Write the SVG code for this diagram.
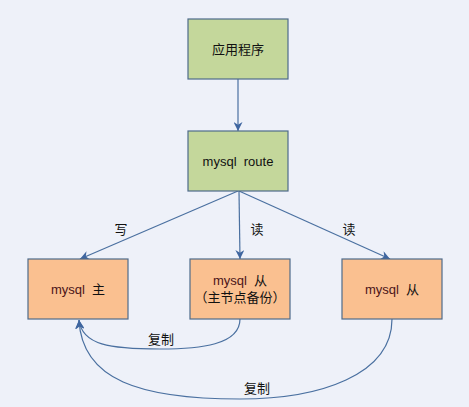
<svg xmlns="http://www.w3.org/2000/svg" width="469" height="407" viewBox="0 0 469 407">
<style>
.g{fill:#c4d79b;stroke:#4f6b8a;stroke-width:1.2}
.o{fill:#fac090;stroke:#4f6b8a;stroke-width:1.2}
.t{font-family:"Liberation Sans","Noto Sans CJK SC",sans-serif;font-size:13px;fill:#111;text-anchor:middle}
.m{fill:#4a1418}
.c{fill:none;stroke:#4a70a0;stroke-width:1.2}
.l{font-family:"Noto Sans CJK SC",sans-serif;font-size:13px;fill:#111;text-anchor:middle}
</style>
<defs>
<marker id="a" viewBox="0 0 10 10" refX="10" refY="5" markerWidth="9" markerHeight="9" markerUnits="userSpaceOnUse" orient="auto">
<path d="M0,0 L10,5 L0,10 L3,5 z" fill="#3f66a0"/>
</marker>
</defs>
<rect width="469" height="407" fill="#eef1f9"/>
<g id="connectors">
<line class="c" x1="238" y1="79" x2="238" y2="131" marker-end="url(#a)"/>
<line class="c" x1="238" y1="191" x2="80" y2="259" marker-end="url(#a)"/>
<line class="c" x1="239" y1="191" x2="240" y2="259" marker-end="url(#a)"/>
<line class="c" x1="239" y1="191" x2="390" y2="259" marker-end="url(#a)"/>
<path class="c" d="M240,319 C240,345 200,349 160,349 C110,349 82,345 79,320" marker-end="url(#a)"/>
<path class="c" d="M392,319 C392,375 320,399 240,399 C140,399 82,380 79,320" marker-end="url(#a)"/>
<text class="l" x="121" y="234">写</text>
<text class="l" x="257" y="234">读</text>
<text class="l" x="349" y="234">读</text>
<text class="l" x="161" y="344">复制</text>
<text class="l" x="257" y="393">复制</text>
</g>
<g id="app"><rect class="g" x="188" y="19" width="100" height="60"/><text class="t" x="238" y="54">应用程序</text></g>
<g id="route"><rect class="g" x="188" y="131" width="100" height="60"/><text class="t" x="238" y="166" xml:space="preserve">mysql  route</text></g>
<g id="master"><rect class="o" x="28" y="259" width="100" height="60"/><text class="t" x="78" y="294" xml:space="preserve"><tspan class="m">mysql</tspan>  主</text></g>
<g id="slave1"><rect class="o" x="190" y="259" width="100" height="60"/><text class="t" x="240" y="285" xml:space="preserve"><tspan class="m">mysql</tspan>  从</text><text class="t" x="240" y="302">（主节点备份）</text></g>
<g id="slave2"><rect class="o" x="342" y="259" width="100" height="60"/><text class="t" x="392" y="294" xml:space="preserve"><tspan class="m">mysql</tspan>  从</text></g>
</svg>
